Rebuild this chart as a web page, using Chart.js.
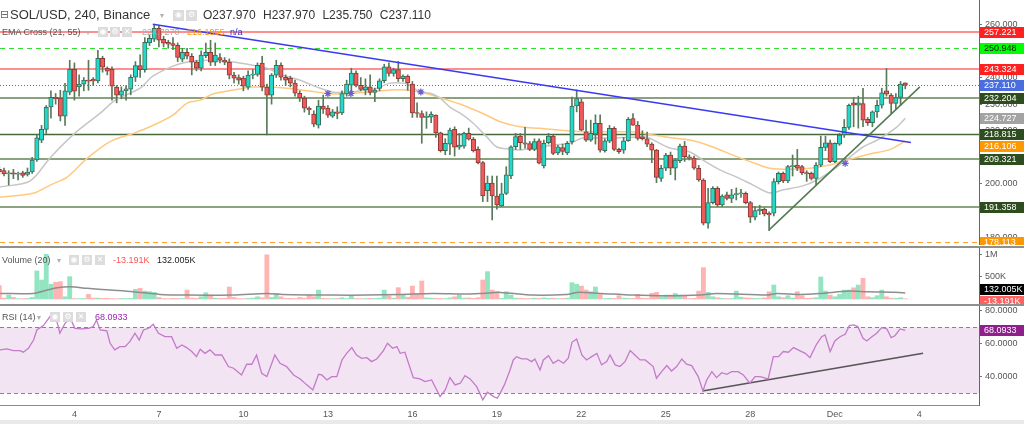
<!DOCTYPE html>
<html>
<head>
<meta charset="utf-8">
<title>SOL/USD, 240, Binance</title>
<script src="https://cdn.jsdelivr.net/npm/chart.js@4.4.1/dist/chart.umd.min.js"></script>
<style>
  html, body { margin: 0; padding: 0; }
  body { width: 1024px; height: 424px; overflow: hidden; background: #fff; position: relative;
         font-family: "Liberation Sans", Arial, sans-serif; }
  canvas { position: absolute; left: 0; }
  #priceCv { top: 0; }
  #volCv { top: 248px; }
  #rsiCv { top: 306px; }
  .sep { position: absolute; left: 0; width: 1024px; height: 2px; background: #8f8f8f; }
  .foot { position: absolute; left: 0; top: 420px; width: 1024px; height: 4px; background: #e9e9e9; }
  .t { position: absolute; white-space: nowrap; font-size: 9px; line-height: 11px; color: #555; }
  .ic { position: absolute; width: 10px; height: 10px; background: #dcdcdc; color: #fff;
        font-size: 8px; line-height: 10px; text-align: center; font-family: "DejaVu Sans", sans-serif; }
  .dd { color: #b0b0b0; font-size: 8px; }
</style>
</head>
<body>
<canvas id="priceCv" width="1024" height="245"></canvas>
<div class="sep" style="top:246px"></div>
<canvas id="volCv" width="1024" height="56"></canvas>
<div class="sep" style="top:304px"></div>
<canvas id="rsiCv" width="1024" height="114"></canvas>
<div class="foot"></div>

<!-- legend lines -->
<div class="t" style="left:0;top:8px;font-size:11px;line-height:13px;color:#666;font-family:'DejaVu Sans',sans-serif">⊟</div>
<div class="t" style="left:10px;top:7px;font-size:13px;line-height:16px;color:#333">SOL/USD, 240, Binance</div>
<div class="t dd" style="left:160px;top:10px">▾</div>
<div class="ic" style="left:173px;top:10px;width:11px;height:11px">◉</div>
<div class="ic" style="left:186px;top:10px;width:11px;height:11px">⚙</div>
<div class="t" style="left:203px;top:8px;font-size:12px;line-height:15px;color:#333;word-spacing:4px">O237.970 H237.970 L235.750 C237.110</div>

<div class="t" style="left:2px;top:27px">EMA Cross (21, 55)</div>
<div class="t dd" style="left:86px;top:27px">▾</div>
<div class="ic" style="left:98px;top:27px">◉</div>
<div class="ic" style="left:110px;top:27px">⚙</div>
<div class="ic" style="left:122px;top:27px">✕</div>
<div class="t" style="left:142px;top:27px;color:#aaa">224.7270</div>
<div class="t" style="left:187px;top:27px;color:#ff9800">216.1955</div>
<div class="t" style="left:230px;top:27px;color:#2a2acc">n/a</div>

<div class="t" style="left:2px;top:255px">Volume (20)</div>
<div class="t dd" style="left:57px;top:255px">▾</div>
<div class="ic" style="left:69px;top:255px">◉</div>
<div class="ic" style="left:82px;top:255px">⚙</div>
<div class="ic" style="left:95px;top:255px">✕</div>
<div class="t" style="left:113px;top:255px;color:#ff5252">-13.191K</div>
<div class="t" style="left:157px;top:255px;color:#222">132.005K</div>

<div class="t" style="left:2px;top:312px">RSI (14)</div>
<div class="t dd" style="left:37px;top:312px">▾</div>
<div class="ic" style="left:50px;top:312px">◉</div>
<div class="ic" style="left:63px;top:312px">⚙</div>
<div class="ic" style="left:76px;top:312px">✕</div>
<div class="t" style="left:95px;top:312px;color:#9c27b0">68.0933</div>

<script>
// ---- data (4h candles, index = number of 4h bars since Nov 1 00:00) ----
const FIRST = 2;

const open = [
  205.5, 205.0, 203.8, 204.2, 203.7, 204.2, 203.6, 204.5, 209.0, 216.5,
  220.5, 229.0, 232.6, 232.3, 225.5, 234.5, 243.1, 236.5, 237.5, 239.0,
  239.4, 238.7, 247.2, 243.5, 243.1, 236.4, 233.4, 235.0, 235.6, 240.1,
  244.5, 243.0, 253.0, 254.4, 258.5, 254.4, 253.2, 252.8, 252.1, 246.9,
  249.5, 248.0, 245.8, 243.5, 248.2, 249.5, 245.8, 247.5, 246.5, 245.8,
  240.9, 240.0, 239.8, 236.4, 240.9, 241.2, 245.4, 236.4, 233.4, 240.9,
  244.6, 240.1, 239.8, 237.9, 234.1, 232.3, 228.5, 226.3, 222.1, 229.3,
  228.5, 225.5, 227.1, 226.7, 233.8, 237.1, 241.7, 237.1, 235.3, 236.5,
  234.4, 235.9, 238.8, 244.0, 241.5, 243.0, 239.6, 240.5, 237.5, 226.7,
  226.5, 225.0, 225.1, 225.9, 219.2, 212.5, 215.0, 220.5, 213.8, 214.2,
  219.0, 216.8, 213.0, 208.0, 197.5, 200.3, 195.5, 191.8, 196.5, 203.0,
  214.0, 218.0, 215.5, 215.2, 213.0, 216.2, 206.8, 215.5, 218.0, 211.7,
  213.7, 211.7, 215.8, 229.3, 230.9, 219.6, 216.5, 218.75, 222.75, 212.5,
  216.1, 220.9, 213.0, 212.75, 216.25, 224.6, 222.1, 217.75, 217.0, 215.0,
  212.75, 202.1, 205.9, 210.9, 205.9, 208.75, 214.25, 210.25, 209.75, 205.9,
  201.5, 185.25, 193.0, 198.4, 192.1, 195.9, 194.6, 196.0, 196.3, 196.5,
  193.0, 187.5, 190.0, 190.5, 189.0, 189.0, 200.9, 204.0, 201.2, 206.5,
  207.1, 206.5, 204.25, 204.0, 202.1, 207.1, 213.75, 215.5, 208.4, 215.0,
  218.4, 221.25, 230.5, 229.6, 230.25, 224.25, 223.0, 227.1, 229.6, 235.0,
  233.4, 230.25, 232.5, 237.97
];
const high = [
  206.5, 206.0, 205.0, 205.5, 204.5, 204.8, 206.0, 210.0, 218.5, 222.0,
  229.5, 235.0, 234.0, 235.2, 237.8, 246.5, 245.5, 241.0, 240.0, 246.5,
  240.0, 250.2, 248.0, 244.0, 244.0, 237.0, 236.5, 237.0, 241.0, 246.0,
  248.5, 255.0, 256.0, 260.0, 259.5, 255.5, 254.0, 255.0, 253.0, 251.0,
  251.0, 249.0, 246.5, 250.0, 252.9, 254.0, 253.0, 249.0, 247.5, 247.0,
  242.0, 241.0, 240.5, 242.5, 243.0, 245.5, 248.0, 237.5, 241.5, 246.5,
  245.5, 241.0, 240.5, 239.0, 235.0, 233.0, 229.0, 227.5, 231.5, 233.4,
  229.5, 228.0, 229.0, 235.0, 239.0, 243.5, 242.5, 240.0, 239.5, 241.0,
  236.0, 239.5, 245.0, 245.5, 243.5, 246.1, 241.0, 241.0, 238.5, 230.5,
  227.5, 227.1, 227.1, 226.0, 219.5, 217.0, 221.0, 221.5, 219.0, 219.5,
  221.0, 217.5, 214.0, 208.5, 203.0, 203.0, 203.0, 200.3, 206.5, 214.3,
  219.0, 219.0, 221.3, 216.0, 217.0, 217.0, 216.5, 219.0, 218.5, 214.5,
  215.0, 216.0, 232.7, 235.3, 232.0, 224.0, 224.0, 226.0, 226.0, 217.0,
  222.0, 221.5, 213.5, 217.5, 225.0, 226.5, 223.5, 220.0, 219.5, 215.5,
  213.0, 207.0, 211.5, 212.0, 209.5, 215.0, 216.0, 211.0, 210.5, 207.0,
  202.0, 198.4, 199.0, 199.0, 196.0, 197.0, 198.0, 198.5, 198.0, 197.0,
  193.5, 191.5, 192.0, 191.0, 189.5, 202.0, 204.5, 204.5, 207.0, 210.9,
  213.0, 207.0, 205.0, 204.5, 208.0, 218.0, 218.0, 216.5, 215.5, 219.0,
  224.25, 230.0, 232.5, 233.0, 235.9, 225.0, 227.5, 231.5, 236.0, 243.4,
  234.0, 234.0, 238.5, 237.97
];
const low = [
  203.5, 203.0, 199.6, 202.0, 201.5, 202.5, 203.0, 204.0, 208.5, 215.5,
  219.0, 224.7, 230.0, 223.7, 222.0, 233.5, 231.5, 233.0, 235.0, 235.2,
  237.0, 238.0, 242.0, 241.0, 231.5, 230.5, 232.0, 231.5, 233.5, 238.5,
  240.0, 242.0, 252.0, 253.5, 251.5, 251.5, 251.0, 250.5, 246.0, 246.0,
  247.0, 241.0, 242.5, 242.5, 247.5, 244.5, 244.5, 245.5, 244.8, 239.5,
  238.0, 237.5, 235.0, 235.5, 239.5, 240.5, 235.0, 218.4, 230.0, 240.0,
  239.0, 237.0, 236.5, 233.0, 231.0, 227.0, 226.0, 221.5, 221.0, 226.5,
  225.0, 225.0, 224.5, 226.0, 233.0, 234.0, 236.5, 235.0, 233.5, 233.5,
  230.9, 235.0, 238.0, 240.5, 240.5, 238.5, 238.5, 235.2, 225.0, 225.0,
  215.3, 220.9, 223.0, 217.5, 212.0, 211.0, 211.0, 210.5, 213.0, 213.5,
  216.5, 212.0, 207.5, 193.4, 193.4, 186.5, 190.5, 191.5, 196.0, 202.0,
  213.0, 213.0, 213.5, 212.5, 212.5, 207.5, 206.0, 215.0, 211.0, 211.0,
  211.0, 211.0, 215.0, 227.1, 220.0, 216.0, 216.0, 215.0, 212.0, 212.0,
  215.5, 212.5, 211.5, 211.5, 216.0, 222.0, 216.5, 216.5, 214.0, 208.0,
  200.5, 201.0, 205.0, 203.5, 201.5, 208.0, 208.5, 209.0, 205.5, 201.0,
  184.6, 183.4, 192.5, 191.5, 191.5, 194.0, 193.0, 194.0, 195.0, 192.5,
  185.5, 186.5, 188.5, 188.0, 182.5, 188.0, 200.0, 200.5, 200.5, 203.0,
  205.0, 203.5, 201.0, 201.5, 199.5, 206.5, 212.5, 208.0, 208.0, 214.5,
  217.5, 220.5, 221.5, 221.0, 221.5, 222.0, 221.5, 225.0, 228.5, 233.0,
  226.5, 228.0, 229.5, 235.75
];
const close = [
  204.6, 203.8, 204.0, 203.7, 204.0, 203.2, 204.5, 209.0, 217.3, 220.5,
  228.8, 232.6, 232.0, 225.5, 235.0, 243.1, 234.9, 237.5, 239.0, 238.6,
  238.7, 247.2, 243.9, 242.4, 236.8, 233.4, 235.0, 235.8, 240.1, 244.5,
  243.0, 253.2, 254.7, 258.5, 254.0, 252.9, 252.5, 252.1, 247.6, 249.5,
  248.0, 245.8, 243.5, 248.4, 249.5, 245.8, 248.4, 246.5, 245.8, 240.9,
  239.8, 239.0, 236.8, 240.9, 241.2, 244.6, 236.4, 233.4, 240.9, 244.6,
  240.1, 239.0, 237.9, 234.1, 232.3, 228.5, 227.8, 222.5, 229.3, 228.1,
  225.9, 227.1, 226.5, 234.0, 237.5, 241.7, 237.1, 235.5, 236.5, 234.4,
  235.3, 238.8, 244.0, 241.5, 243.0, 239.6, 240.5, 238.0, 226.7, 226.5,
  225.0, 225.5, 226.3, 219.2, 212.5, 215.3, 220.3, 213.8, 214.6, 219.0,
  216.8, 212.5, 208.0, 195.5, 200.3, 195.5, 192.1, 196.3, 203.4, 214.0,
  217.8, 215.5, 215.0, 213.0, 215.9, 207.8, 215.3, 218.0, 211.5, 214.0,
  212.2, 215.3, 229.3, 232.1, 220.2, 216.5, 219.0, 222.75, 212.75, 216.25,
  220.9, 213.0, 212.1, 216.25, 224.25, 222.1, 217.1, 217.0, 215.0, 212.75,
  202.5, 205.9, 210.9, 205.9, 209.0, 214.25, 210.25, 209.75, 205.9, 201.5,
  185.25, 193.0, 198.4, 192.1, 195.5, 194.6, 195.9, 196.3, 196.4, 193.0,
  187.5, 190.0, 190.6, 188.75, 188.4, 200.9, 204.0, 201.2, 206.5, 206.9,
  205.9, 204.25, 203.75, 202.1, 207.1, 213.75, 215.5, 208.4, 215.25, 218.4,
  221.25, 229.6, 229.6, 230.5, 224.0, 223.0, 227.1, 229.6, 234.25, 233.75,
  230.25, 232.5, 237.5, 237.11
];
// volume in thousands
const volume = [
  298, 20, 88, 35, 8, 10, 13, 35, 628, 425,
  1000, 328, 373, 388, 50, 500, 10, 8, 12, 103,
  20, 20, 15, 18, 10, 8, 12, 10, 15, 216,
  238, 178, 163, 148, 35, 10, 8, 15, 12, 10,
  200, 20, 15, 50, 140, 88, 20, 15, 18, 268,
  35, 10, 8, 15, 20, 50, 28, 988, 35, 125,
  50, 12, 15, 10, 35, 20, 88, 50, 200, 15,
  10, 8, 12, 28, 10, 73, 12, 8, 10, 15,
  12, 20, 200, 73, 20, 253, 88, 40, 290, 103,
  403, 25, 20, 15, 12, 10, 25, 50, 88, 20,
  25, 15, 30, 425, 613, 200, 163, 15, 163, 88,
  20, 15, 10, 12, 20, 15, 25, 15, 20, 10,
  12, 20, 365, 328, 290, 200, 163, 268, 103, 10,
  15, 12, 73, 20, 13, 15, 103, 20, 15, 125,
  148, 50, 88, 88, 125, 88, 73, 10, 15, 178,
  703, 148, 50, 28, 15, 10, 12, 178, 40, 25,
  20, 15, 12, 25, 163, 313, 50, 30, 73, 20,
  163, 73, 15, 20, 30, 493, 178, 88, 50, 103,
  200, 200, 250, 313, 463, 50, 30, 73, 200, 50,
  20, 15, 28, 5
];

const emaFastIdx = [2.15, 8.5, 12.8, 18.1, 23.5, 26.7, 32.0, 34.7, 39.0, 42.0,
  46.2, 49.0, 51.8, 56.0, 59.0, 62.4, 66.1, 69.7, 73.1, 76.7,
  79.9, 82.5, 85.2, 88.0, 89.5, 91.6, 93.8, 95.9, 98.0, 100.8,
  102.9, 105.9, 108.0, 110.8, 112.9, 117.2, 120.0, 123.6, 126.3, 129.3,
  132.7, 137.0, 140.0, 142.1, 144.9, 149.1, 151.9, 155.5, 159.1, 162.6,
  166.2, 169.0, 173.2, 176.2, 179.6, 183.2, 186.0, 189.0, 193.2, 195.0];
const emaFast = [198.9, 201.1, 209.8, 219.1, 226.6, 231.5, 236.0, 240.5, 244.3, 245.8,
  246.5, 246.1, 245.8, 244.6, 243.5, 240.9, 239.0, 236.4, 234.5, 234.5,
  235.3, 236.0, 237.9, 237.9, 237.1, 234.5, 234.1, 232.3, 228.9, 225.9,
  222.9, 217.6, 213.9, 213.1, 212.8, 213.9, 214.6, 215.4, 217.3, 217.3,
  217.3, 217.6, 217.6, 215.8, 213.5, 212.0, 209.0, 205.3, 202.6, 199.6,
  196.6, 197.8, 199.3, 201.5, 205.3, 210.1, 213.9, 216.5, 221.4, 224.727];

const emaSlowIdx = [2.15, 9.2, 12.8, 16.4, 20.7, 25.6, 30.5, 34.1, 39.0, 42.0,
  44.8, 47.5, 51.8, 56.0, 59.7, 63.3, 68.2, 73.1, 76.7, 81.0,
  85.2, 88.8, 92.3, 96.5, 100.8, 105.0, 108.7, 112.9, 117.2, 122.9,
  127.2, 132.1, 137.0, 141.3, 144.9, 149.1, 153.4, 159.1, 163.4, 166.2,
  170.4, 174.7, 178.9, 183.2, 187.5, 191.8, 195.0];
const emaSlow = [195.0, 196.5, 199.6, 202.5, 209.6, 215.9, 219.0, 221.5, 225.9, 230.4,
  231.5, 233.8, 235.3, 236.4, 236.4, 236.0, 234.9, 233.8, 234.0, 234.6,
  235.3, 235.3, 234.3, 232.1, 229.6, 226.5, 223.4, 221.5, 220.9, 220.0,
  219.6, 219.6, 219.6, 218.4, 217.4, 216.5, 214.3, 210.3, 207.5, 205.9,
  205.5, 205.9, 207.1, 209.3, 211.3, 213.0, 216.106];

const crossIdx = [72.0, 76.9, 91.8, 182.2];
const crossVal = [234.0, 234.0, 234.6, 207.75];

const volMaIdx = [2.2, 9.2, 12.2, 14.3, 17.1, 20.7, 25.6, 30.5, 36.2, 42.0,
  51.8, 59.0, 62.4, 73.1, 80.3, 87.4, 94.4, 101.6, 105.0, 108.7,
  115.7, 122.9, 125.1, 130.0, 137.0, 144.2, 151.3, 154.9, 165.5, 167.7,
  172.6, 176.9, 183.2, 186.9, 193.9, 195.0];
const volMa = [125, 125, 200, 253, 275, 238, 200, 163, 103, 88,
  88, 125, 103, 88, 88, 103, 125, 110, 125, 148,
  88, 103, 148, 125, 88, 73, 88, 125, 88, 125,
  103, 125, 178, 163, 148, 132.005];

const rsiIdx = [2.1, 3.6, 5.0, 6.4, 7.1, 8.2, 9.3, 10.0, 11.4, 12.8,
  13.5, 14.2, 14.9, 16.0, 17.1, 18.1, 19.5, 21.0, 22.0, 22.7,
  23.5, 24.9, 25.6, 26.6, 27.7, 28.8, 29.8, 30.9, 31.8, 32.7,
  33.8, 34.8, 35.9, 37.3, 38.7, 39.8, 40.9, 41.9, 43.0, 44.0,
  44.8, 45.8, 46.9, 48.0, 49.4, 50.8, 51.9, 53.6, 54.7, 55.8,
  56.8, 57.9, 59.0, 60.7, 61.8, 63.2, 64.7, 66.1, 67.5, 68.8,
  70.0, 70.7, 71.8, 72.8, 73.9, 75.0, 76.0, 77.1, 78.1, 79.2,
  80.3, 81.3, 82.4, 83.8, 84.7, 85.8, 86.7, 87.4, 88.4, 90.2,
  91.6, 92.7, 94.1, 95.9, 97.0, 98.0, 99.1, 100.2, 101.2, 102.3,
  103.7, 105.0, 106.0, 107.3, 108.1, 108.7, 109.6, 110.8, 111.5, 112.2,
  113.3, 114.4, 115.4, 116.1, 117.2, 117.9, 119.0, 120.0, 121.1, 122.2,
  123.2, 124.0, 125.0, 126.1, 127.1, 128.2, 129.3, 130.3, 131.4, 132.1,
  133.2, 134.2, 135.3, 136.4, 137.4, 138.5, 139.6, 141.3, 142.0, 143.1,
  144.2, 145.2, 146.3, 147.4, 148.4, 149.5, 150.9, 151.9, 152.7, 153.8,
  154.8, 155.9, 157.0, 158.0, 159.4, 160.5, 161.9, 163.0, 164.1, 165.8,
  166.9, 168.0, 169.0, 170.1, 171.2, 172.6, 173.7, 174.7, 176.1, 177.2,
  177.9, 179.0, 180.0, 181.1, 182.2, 183.1, 184.0, 184.9, 186.0, 186.8,
  187.9, 188.9, 190.0, 191.1, 192.0, 192.8, 193.9, 195.0];
const rsiVal = [56.3, 56.9, 55.9, 55.9, 54.9, 57.3, 62.3, 68.4, 71.0, 76.5,
  77.5, 74.4, 66.4, 72.4, 75.5, 69.4, 69.0, 69.4, 70.4, 74.4,
  68.4, 67.8, 60.3, 56.3, 58.3, 58.3, 61.3, 66.4, 62.3, 68.4,
  69.4, 71.8, 66.4, 64.3, 64.3, 57.3, 59.3, 57.7, 55.3, 52.2,
  56.7, 54.2, 56.3, 53.2, 53.2, 46.2, 45.2, 41.1, 47.6, 47.6,
  53.2, 42.1, 40.1, 53.2, 48.2, 46.2, 41.1, 38.7, 35.1, 32.0,
  41.5, 41.1, 38.1, 40.1, 40.1, 50.2, 54.2, 57.7, 53.2, 51.2,
  51.6, 49.2, 50.8, 55.7, 60.3, 57.3, 58.3, 54.2, 54.9, 39.5,
  38.7, 37.1, 38.1, 28.0, 32.0, 39.5, 35.1, 36.1, 40.7, 38.7,
  34.0, 26.0, 30.6, 28.0, 27.0, 30.0, 35.1, 44.1, 50.2, 52.2,
  50.8, 50.8, 49.2, 50.8, 44.1, 50.2, 52.8, 48.2, 50.2, 48.2,
  51.2, 60.9, 62.9, 53.2, 50.2, 52.2, 54.2, 47.2, 49.2, 53.2,
  47.2, 46.2, 49.2, 55.9, 53.2, 50.2, 50.2, 46.2, 39.1, 43.1,
  46.8, 43.5, 46.2, 50.8, 47.6, 46.8, 40.1, 31.4, 38.1, 43.1,
  39.5, 42.5, 41.5, 43.1, 43.1, 41.1, 36.1, 40.1, 40.1, 38.7,
  52.2, 52.2, 55.3, 54.9, 57.7, 55.7, 54.2, 51.6, 59.7, 64.3,
  65.4, 55.3, 61.7, 64.3, 65.8, 71.0, 71.4, 70.4, 63.3, 61.7,
  64.3, 66.4, 69.8, 69.0, 63.7, 64.9, 69.0, 68.0933];

// drawn trend lines: [start, end]
const downTrendIdx = [34.7, 196.2], downTrendVal = [260.0, 215.6];
const upTrendIdx = [166.0, 198.1], upTrendVal = [182.75, 236.5];
const rsiTrendIdx = [151.8, 198.8], rsiTrendVal = [31.4, 54.2];

// horizontal levels
const levelVals = [257.221, 250.948, 243.324, 237.110, 232.204, 218.815, 209.321, 191.358, 178.113];
const priceTagVals = [257.221, 250.948, 243.324, 237.110, 232.204, 224.727, 218.815, 216.106, 209.321, 191.358, 178.113];
const volTagVals = [132.005, -13.191];
const rsiTagVals = [68.0933];
const rsiBand = [70, 30];

const priceTicks = [180, 190, 200, 210, 220, 230, 240, 250, 260];
const volTicks = [500, 1000];
const rsiTicks = [40, 60, 80];
const dayTickIdx = [18, 36, 54, 72, 90, 108, 126, 144, 162, 180, 198];
const dayTickLabels = ['4', '7', '10', '13', '16', '19', '22', '25', '28', 'Dec', '4'];

// ---- styles ----
const levelStyle = [
  { c: '#ff8f8f', w: 2 },
  { c: '#2fe02f', w: 1, d: [5, 4] },
  { c: '#ff8f8f', w: 2 },
  { c: '#4c6ce6', w: 1, d: [1, 2] },
  { c: '#8ba27e', w: 2 },
  { c: '#48673a', w: 1.5 },
  { c: '#8ba27e', w: 2 },
  { c: '#8ba27e', w: 2 },
  { c: '#ff9d2e', w: 1, d: [5, 4] }
];
const priceTagBg = ['#ff2020', '#00ff00', '#ff2020', '#4a6ee0', '#2e4d1f', '#a3a3a3', '#2e4d1f', '#ff9800', '#2e4d1f', '#2e4d1f', '#ff9800'];
const priceTagFg = ['#fff', '#111', '#fff', '#fff', '#fff', '#fff', '#fff', '#fff', '#fff', '#fff', '#fff'];

const UP = '#22d8cb', DOWN = '#f05a5a', UP_EDGE = '#3b6d55', DOWN_EDGE = '#8c3a36', WICK = '#587a5a';

Chart.defaults.font.family = '"Liberation Sans", Arial, sans-serif';
Chart.defaults.font.size = 9;
Chart.defaults.color = '#555';

const XMIN = 2.147, XMAX = 210.71;
const idx = open.map((_, k) => FIRST + k);
const isUp = open.map((o, k) => close[k] >= o);
const pts = (xs, ys) => xs.map((x, k) => ({ x, y: ys[k] }));

function yAxis(min, max, tickVals, fmt) {
  return {
    position: 'right', min, max,
    afterBuildTicks: s => { s.ticks = tickVals.map(v => ({ value: v })); },
    afterFit: s => { s.width = 45; s.paddingTop = 0; s.paddingBottom = 0; },
    ticks: { color: '#555', font: { size: 9 }, padding: 3, callback: fmt },
    grid: { drawOnChartArea: false, drawTicks: true, tickLength: 3, color: '#777' },
    border: { display: true, color: '#666' }
  };
}
const hiddenX = () => ({ type: 'linear', min: XMIN, max: XMAX, offset: false, display: false });

function drawLevel(chart, value, st) {
  const { ctx, chartArea: a, scales: { y } } = chart;
  const py = Math.round(y.getPixelForValue(value)) + (st.w % 2 ? 0.5 : 0);
  ctx.save();
  ctx.strokeStyle = st.c; ctx.lineWidth = st.w; ctx.setLineDash(st.d || []);
  ctx.beginPath(); ctx.moveTo(a.left, py); ctx.lineTo(a.right, py); ctx.stroke();
  ctx.restore();
}

function drawTags(chart, tags) {
  const { ctx, chartArea: a, scales: { y } } = chart;
  const list = tags.map(t => ({ ...t, py: y.getPixelForValue(t.v) })).sort((p, q) => p.py - q.py);
  const gap = 12, lim = chart.height - 3.5;
  for (let k = 1; k < list.length; k++) if (list[k].py - list[k - 1].py < gap) list[k].py = list[k - 1].py + gap;
  const n = list.length - 1;
  if (list[n].py > lim) {
    list[n].py = lim;
    for (let k = n - 1; k >= 0; k--) if (list[k + 1].py - list[k].py < gap) list[k].py = list[k + 1].py - gap;
  }
  ctx.save();
  ctx.font = '9px "Liberation Sans", Arial, sans-serif';
  ctx.textBaseline = 'middle';
  list.forEach(t => {
    const py = Math.round(t.py);
    ctx.fillStyle = t.bg; ctx.fillRect(a.right + 1, py - 5, chart.width - a.right - 1, 11);
    ctx.fillStyle = t.fg; ctx.fillText(t.text, a.right + 5, py + 0.5);
  });
  ctx.restore();
}

const common = {
  responsive: false, animation: false, events: [],
  layout: { padding: 0, autoPadding: false },
  plugins: { legend: { display: false }, tooltip: { enabled: false } }
};

// ---- price pane ----
new Chart(document.getElementById('priceCv'), {
  type: 'bar',
  data: {
    datasets: [
      { type: 'line', data: pts(emaFastIdx, emaFast), borderColor: '#c6c6c6', borderWidth: 1.5, pointRadius: 0, tension: 0.3, order: 5 },
      { type: 'line', data: pts(emaSlowIdx, emaSlow), borderColor: '#ffc980', borderWidth: 1.5, pointRadius: 0, tension: 0.3, order: 5 },
      { data: idx.map((x, k) => ({ x, y: [low[k], high[k]] })), backgroundColor: WICK,
        barThickness: 1, grouped: false, order: 3 },
      { data: idx.map((x, k) => ({ x, y: [open[k], close[k]] })),
        backgroundColor: isUp.map(u => u ? UP : DOWN), borderColor: isUp.map(u => u ? UP_EDGE : DOWN_EDGE),
        borderWidth: 1, borderSkipped: false, barThickness: 4.4, minBarLength: 1, grouped: false, order: 2 },
      { type: 'line', data: pts(downTrendIdx, downTrendVal), borderColor: '#3a3af0', borderWidth: 1.5, pointRadius: 0, order: 1 },
      { type: 'line', data: pts(upTrendIdx, upTrendVal), borderColor: '#527a52', borderWidth: 1.5, pointRadius: 0, order: 1 },
      { type: 'scatter', data: pts(crossIdx, crossVal), pointStyle: 'star', pointRadius: 3.5,
        borderColor: '#6b5bd0', backgroundColor: '#6b5bd0', borderWidth: 1.2, order: 0 }
    ]
  },
  options: {
    ...common,
    scales: {
      x: hiddenX(),
      y: yAxis(177.08, 269.13, priceTicks, v => v.toFixed(3))
    }
  },
  plugins: [{
    id: 'levels',
    beforeDatasetsDraw(chart) { levelVals.forEach((v, k) => drawLevel(chart, v, levelStyle[k])); },
    afterDraw(chart) {
      drawTags(chart, priceTagVals.map((v, k) => ({ v, text: v.toFixed(3), bg: priceTagBg[k], fg: priceTagFg[k] })));
    }
  }]
});

// ---- volume pane ----
new Chart(document.getElementById('volCv'), {
  type: 'bar',
  data: {
    datasets: [
      { type: 'line', data: pts(volMaIdx, volMa), borderColor: '#8e8e8e', borderWidth: 1.5, pointRadius: 0, tension: 0.3, order: 0 },
      { data: idx.map((x, k) => ({ x, y: volume[k] })),
        backgroundColor: isUp.map(u => u ? '#93e5c1' : '#ffb4b4'), barThickness: 4.2, grouped: false, order: 1 }
    ]
  },
  options: {
    ...common,
    scales: {
      x: hiddenX(),
      y: yAxis(-111.9, 1140.9, volTicks, v => v >= 1000 ? (v / 1000) + 'M' : v + 'K')
    }
  },
  plugins: [{
    id: 'volTags',
    afterDraw(chart) {
      drawTags(chart, [
        { v: volTagVals[0], text: volTagVals[0].toFixed(3) + 'K', bg: '#000', fg: '#fff' },
        { v: volTagVals[1], text: volTagVals[1].toFixed(3) + 'K', bg: '#ff6161', fg: '#fff' }
      ]);
    }
  }]
});

// ---- RSI pane with time axis ----
new Chart(document.getElementById('rsiCv'), {
  type: 'line',
  data: {
    datasets: [
      { data: pts(rsiIdx, rsiVal), borderColor: '#c37ac9', borderWidth: 1.3, pointRadius: 0, tension: 0 },
      { data: pts(rsiTrendIdx, rsiTrendVal), borderColor: '#555', borderWidth: 1.5, pointRadius: 0 }
    ]
  },
  options: {
    ...common,
    scales: {
      x: {
        type: 'linear', min: XMIN, max: XMAX, offset: false,
        afterBuildTicks: s => { s.ticks = dayTickIdx.map(v => ({ value: v })); },
        afterFit: s => { s.height = 15; s.paddingLeft = 0; s.paddingRight = 0; },
        ticks: { autoSkip: false, maxRotation: 0, padding: 4, color: '#555', font: { size: 9 },
                 callback: (v, i) => dayTickLabels[i] },
        grid: { display: false, drawTicks: false },
        border: { display: true, color: '#8a8a8a' }
      },
      y: yAxis(22.9, 82.9, rsiTicks, v => v.toFixed(4))
    }
  },
  plugins: [{
    id: 'rsiBand',
    beforeDatasetsDraw(chart) {
      const { ctx, chartArea: a, scales: { y } } = chart;
      const top = y.getPixelForValue(rsiBand[0]), bot = y.getPixelForValue(rsiBand[1]);
      ctx.save();
      ctx.fillStyle = '#f3e4f4';
      ctx.fillRect(a.left, top, a.right - a.left, bot - top);
      ctx.restore();
      rsiBand.forEach(v => drawLevel(chart, v, { c: '#8f7f8f', w: 1, d: [4, 3] }));
    },
    afterDraw(chart) {
      drawTags(chart, [{ v: rsiTagVals[0], text: rsiTagVals[0].toFixed(4), bg: '#8e1f8c', fg: '#fff' }]);
    }
  }]
});
</script>
</body>
</html>
